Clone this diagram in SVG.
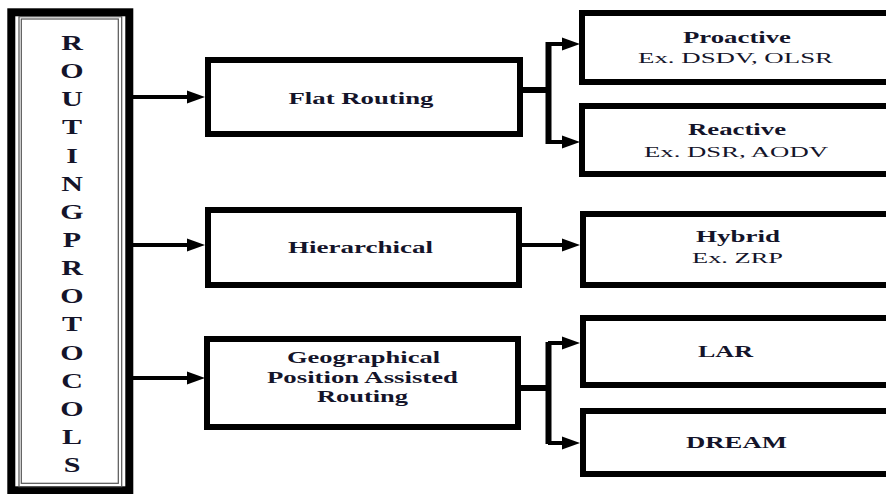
<svg xmlns="http://www.w3.org/2000/svg" width="886" height="494" viewBox="0 0 886 494">
<style>
.bg{fill:#fff}
.box{fill:#fff;stroke:#000;stroke-width:6}
.thin{fill:none;stroke:#555;stroke-width:1.2}
text{fill:#14142a;text-anchor:middle}
.b{font-weight:bold;font-size:16.5px}
.r{font-size:15px}
.col{font-weight:bold;font-size:20px}
.ln{fill:none;stroke:#000;stroke-width:4}
.br{fill:none;stroke:#000;stroke-width:6}
</style>
<defs>
<marker id="ah" markerUnits="userSpaceOnUse" markerWidth="18" markerHeight="14" refX="6" refY="7" orient="auto">
<path d="M0,0.5 L18,7 L0,13.5 z" fill="#000"/>
</marker>
</defs>
<rect class="bg" x="0" y="0" width="886" height="494"/>
<g font-family="Liberation Serif, Times New Roman, serif">
<g id="routing-protocols">
<rect x="11.3" y="12.3" width="118" height="478" fill="#fff" stroke="#000" stroke-width="8"/>
<rect class="thin" x="19" y="16.7" width="102.7" height="470"/>
<rect class="thin" x="21.3" y="19" width="97" height="464.3"/>
<g transform="translate(72 0) scale(1.5 1)">
<text class="col" x="0" y="50">R</text>
<text class="col" x="0" y="78.2">O</text>
<text class="col" x="0" y="106.3">U</text>
<text class="col" x="0" y="134.5">T</text>
<text class="col" x="0" y="162.6">I</text>
<text class="col" x="0" y="190.8">N</text>
<text class="col" x="0" y="218.9">G</text>
<text class="col" x="0" y="247.1">P</text>
<text class="col" x="0" y="275.2">R</text>
<text class="col" x="0" y="303.4">O</text>
<text class="col" x="0" y="331.5">T</text>
<text class="col" x="0" y="359.7">O</text>
<text class="col" x="0" y="387.8">C</text>
<text class="col" x="0" y="416">O</text>
<text class="col" x="0" y="444.1">L</text>
<text class="col" x="0" y="472.3">S</text>
</g>
</g>

<g id="flat-routing">
<rect class="box" x="208" y="60" width="312" height="74"/>
<text class="b" x="361" y="104" textLength="145" lengthAdjust="spacingAndGlyphs">Flat Routing</text>
</g>
<g id="hierarchical">
<rect class="box" x="208" y="210" width="311" height="75"/>
<text class="b" x="360.5" y="253" textLength="145" lengthAdjust="spacingAndGlyphs">Hierarchical</text>
</g>
<g id="geographical">
<rect class="box" x="207" y="339" width="311" height="88"/>
<text class="b" x="363.5" y="363" textLength="153" lengthAdjust="spacingAndGlyphs">Geographical</text>
<text class="b" x="362.5" y="383" textLength="191" lengthAdjust="spacingAndGlyphs">Position Assisted</text>
<text class="b" x="362.5" y="402" textLength="91" lengthAdjust="spacingAndGlyphs">Routing</text>
</g>

<g id="proactive">
<rect class="box" x="582" y="13" width="330" height="69"/>
<text class="b" x="737" y="43" textLength="108" lengthAdjust="spacingAndGlyphs">Proactive</text>
<text class="r" x="735.5" y="63" textLength="195" lengthAdjust="spacingAndGlyphs">Ex. DSDV, OLSR</text>
</g>
<g id="reactive">
<rect class="box" x="582" y="106" width="330" height="68"/>
<text class="b" x="737" y="135" textLength="98" lengthAdjust="spacingAndGlyphs">Reactive</text>
<text class="r" x="736" y="157" textLength="184" lengthAdjust="spacingAndGlyphs">Ex. DSR, AODV</text>
</g>
<g id="hybrid">
<rect class="box" x="583" y="214" width="330" height="71"/>
<text class="b" x="738" y="242" textLength="84" lengthAdjust="spacingAndGlyphs">Hybrid</text>
<text class="r" x="737.5" y="263" textLength="91" lengthAdjust="spacingAndGlyphs">Ex. ZRP</text>
</g>
<g id="lar">
<rect class="box" x="583" y="318" width="330" height="67"/>
<text class="b" x="725.5" y="357" textLength="55" lengthAdjust="spacingAndGlyphs">LAR</text>
</g>
<g id="dream">
<rect class="box" x="583" y="411" width="330" height="63"/>
<text class="b" x="736.5" y="448" textLength="101" lengthAdjust="spacingAndGlyphs">DREAM</text>
</g>
</g>
<g id="connectors">
<line class="ln" x1="133" y1="97" x2="193" y2="97" marker-end="url(#ah)"/>
<line class="ln" x1="133" y1="245" x2="193" y2="245" marker-end="url(#ah)"/>
<line class="ln" x1="133" y1="378" x2="193" y2="378" marker-end="url(#ah)"/>
<line class="ln" x1="521" y1="245" x2="568" y2="245" marker-end="url(#ah)"/>
<path class="br" d="M522,90 H548.5 M548.5,42 V144"/>
<line class="ln" x1="548" y1="44" x2="568" y2="44" marker-end="url(#ah)"/>
<line class="ln" x1="548" y1="142" x2="568" y2="142" marker-end="url(#ah)"/>
<path class="br" d="M520,388 H548.5 M548.5,342 V444"/>
<line class="ln" x1="548" y1="343" x2="568" y2="343" marker-end="url(#ah)"/>
<line class="ln" x1="548" y1="443" x2="568" y2="443" marker-end="url(#ah)"/>
</g>
</svg>
